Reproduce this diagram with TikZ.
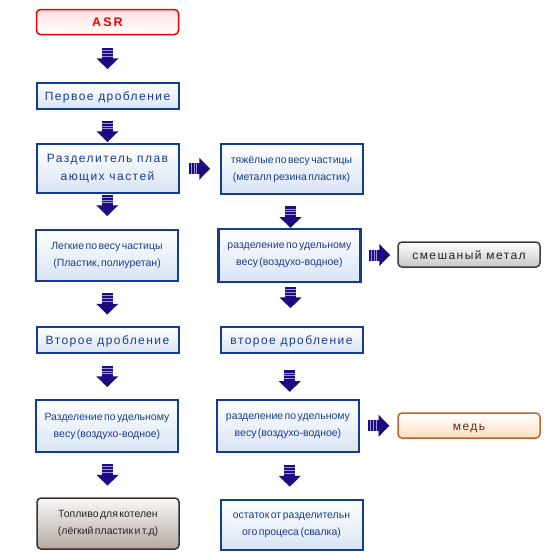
\documentclass[tikz,border=0pt]{standalone}
\usepackage{fontspec}
\setmainfont{Liberation Sans}
\newfontfamily\widefont[LetterSpace=12]{Liberation Sans}
\newfontfamily\tightfont[WordSpace=0.5]{Liberation Sans}
\usetikzlibrary{
	calc,
	positioning
}
\definecolor{BoxBlue}{RGB}{20,60,150}
\definecolor{BoxFill}{RGB}{216,228,244}
\definecolor{BoxText}{RGB}{30,60,140}
\definecolor{ArrowNavy}{RGB}{28,12,128}
\definecolor{StripeBlue}{RGB}{150,150,220}
\definecolor{AsrRed}{RGB}{240,0,0}
\definecolor{MetalGray}{RGB}{60,60,60}
\definecolor{CopperLine}{RGB}{190,100,40}
\definecolor{CopperText}{RGB}{100,45,20}
\definecolor{FuelFill}{RGB}{182,168,162}

\tikzset{
	blkbox/.style={draw=BoxBlue, line width=2pt, top color=white, bottom color=BoxFill,
		text=BoxText, minimum width=142pt, inner sep=0pt},
	onerow/.style={blkbox, minimum height=26pt, text height=10pt, text depth=1pt,
		font=\widefont\fontsize{12}{14}\selectfont},
	tworow/.style={blkbox, minimum height=51pt, align=center, font=\tightfont\fontsize{10.5}{17}\selectfont},
	roundbox/.style={rounded corners=4pt, line width=1.5pt, minimum width=142pt,
		minimum height=25pt, inner sep=0pt, text height=10pt, text depth=1pt},
	fatarrow/.pic={
		\fill[ArrowNavy] (-5.5,-11) rectangle (5.5,0);
		\foreach \s in {-8.3,-5.5,-2.7}
			\draw[StripeBlue, line width=0.8pt] (-5.5,\s) -- (5.5,\s);
		\fill[ArrowNavy] (-11,-0.2) -- (11,-0.2) -- (0,10.5) -- cycle;
	}
}

\begin{document}
\begin{tikzpicture}[x=1pt, y=-1pt]
	\useasboundingbox (0,0) rectangle (560,560);

	% left column
	\node[roundbox, draw=AsrRed, top color=red!12, bottom color=white, text=AsrRed,
		font=\widefont\bfseries\fontsize{12.5}{14}\selectfont] (asr) at (107.5,22) {A\,S\,R};
	\node[onerow] (crush1) at (107.5,96) {Первое дробление};
	\node[blkbox, minimum height=49pt, align=center,
		font=\widefont\fontsize{12}{18}\selectfont] (sep) at (107.5,168.5) {Разделитель плав\\ающих частей};
	\node[tworow] (light) at (107,255.5) {Легкие по весу частицы\\(Пластик, полиуретан)};
	\node[onerow] (crush2l) at (107.5,340) {Второе дробление};
	\node[tworow, minimum height=52pt] (wsepl) at (107,426) {Разделение по удельному\\весу (воздухо-водное)};
	\node[roundbox, draw=black!80, top color=white!92!FuelFill, bottom color=FuelFill, text=black!85,
		minimum height=51pt, text height=, text depth=, align=center,
		font=\tightfont\fontsize{10.5}{17}\selectfont] (fuel) at (108,523.5) {Топливо для котелен\\(лёгкий пластик и т.д)};

	% right column
	\node[tworow, minimum height=50pt] (heavy) at (291.5,169) {тяжёлые по весу частицы\\(металл резина пластик)};
	\node[tworow, line width=2.6pt, minimum height=53pt] (wsep1) at (289.5,255.5) {разделение по удельному\\весу (воздухо-водное)};
	\node[onerow] (crush2r) at (291.5,340) {второе дробление};
	\node[tworow, line width=2.6pt, minimum height=52pt] (wsepr) at (288,426) {разделение по удельному\\весу (воздухо-водное)};
	\node[tworow, minimum height=50pt] (rest) at (291.5,525) {остаток от разделительн\\ого процеса (свалка)};

	% outputs
	\node[roundbox, draw=MetalGray, top color=white, bottom color=black!22, text=black!85,
		font=\widefont\fontsize{12}{14}\selectfont] (mixed) at (469,254.5) {смешаный метал};
	\node[roundbox, draw=CopperLine, top color=white, bottom color=orange!25, text=CopperText,
		font=\widefont\fontsize{12}{14}\selectfont] (copper) at (469,425.5) {медь};

	% arrows
	\pic at ($(asr.south)!0.5!(crush1.north)$) {fatarrow};
	\pic at ($(crush1.south)!0.5!(sep.north)+(0,5)$) {fatarrow};
	\pic[rotate=90] at ($(sep.east)!0.5!(heavy.west)$) {fatarrow};
	\pic at ($(sep.south)!0.5!(light.north)+(0,-6)$) {fatarrow};
	\pic at ($(heavy.south)!0.5!(wsep1.north)+(0,6)$) {fatarrow};
	\pic[rotate=90] at ($(wsep1.east)!0.5!(mixed.west)$) {fatarrow};
	\pic at ($(light.south)!0.5!(crush2l.north)$) {fatarrow};
	\pic at ($(wsep1.south)!0.5!(crush2r.north)+(0,-7)$) {fatarrow};
	\pic at ($(crush2l.south)!0.5!(wsepl.north)$) {fatarrow};
	\pic at ($(crush2r.south)!0.5!(wsepr.north)+(0,5)$) {fatarrow};
	\pic[rotate=90] at ($(wsepr.east)!0.5!(copper.west)$) {fatarrow};
	\pic at ($(wsepl.south)!0.5!(fuel.north)$) {fatarrow};
	\pic at ($(wsepr.south)!0.5!(rest.north)$) {fatarrow};
\end{tikzpicture}
\end{document}
